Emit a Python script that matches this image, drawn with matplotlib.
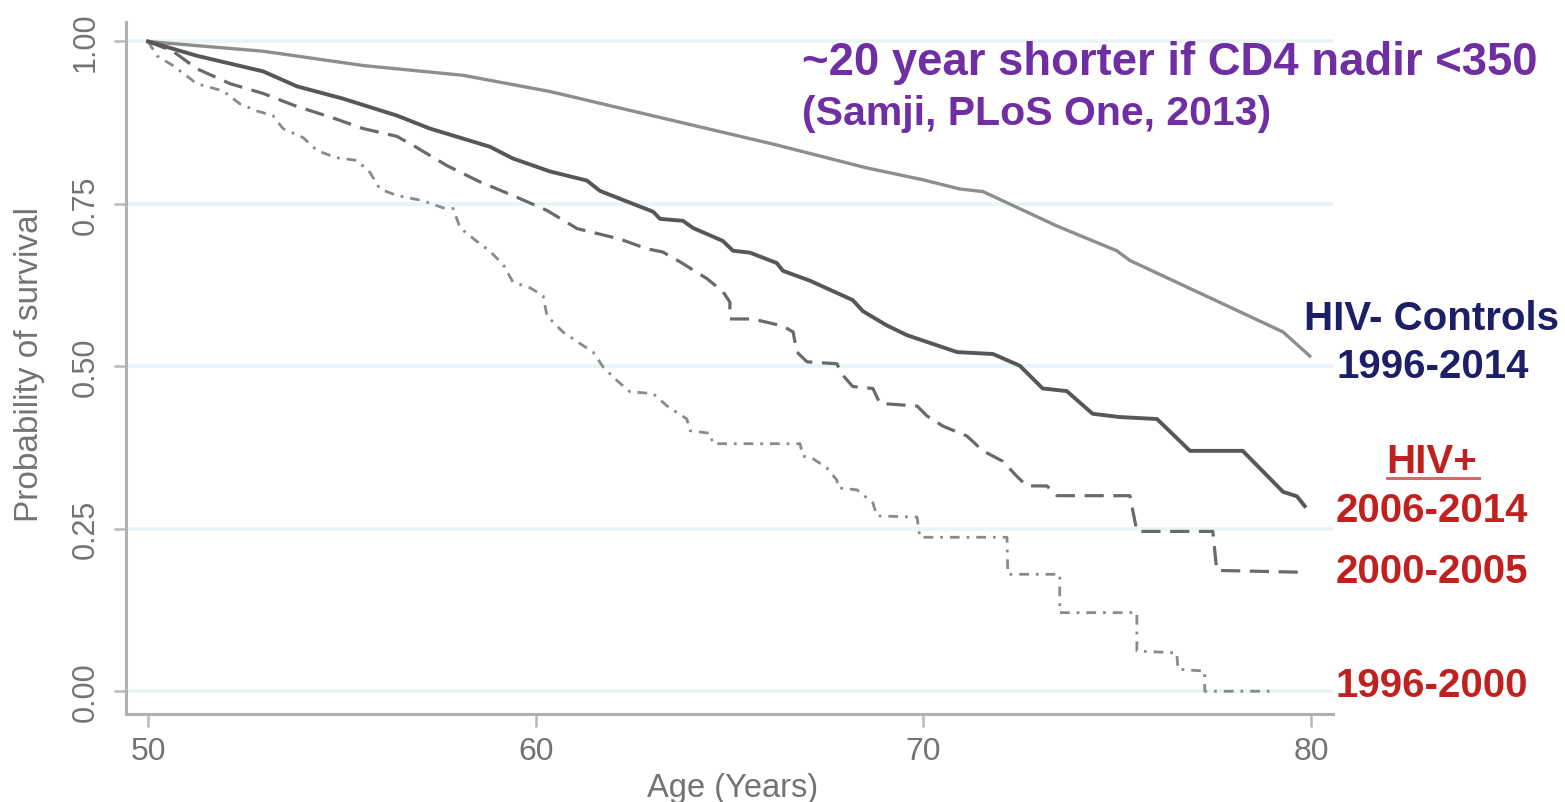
import matplotlib
matplotlib.use("Agg")
import matplotlib.pyplot as plt
from matplotlib.lines import Line2D

plt.rcParams['font.family'] = ['Liberation Sans', 'DejaVu Sans']

# ---------------- data ----------------
ctrl_age = [50.0, 52.97, 55.55, 58.12, 60.37, 62.5, 64.42, 66.2, 68.5, 70.0,
            70.94, 71.54, 73.45, 74.99, 75.33, 77.99, 79.28, 79.97]
ctrl_surv = [1.0, 0.985, 0.963, 0.948, 0.923, 0.893, 0.866, 0.841, 0.806, 0.787,
             0.773, 0.769, 0.716, 0.678, 0.663, 0.589, 0.553, 0.516]

p0614_age = [50.0, 51.26, 52.97, 53.84, 55.03, 56.42, 57.27, 58.82, 59.41, 60.37,
             61.32, 61.66, 63.03, 63.21, 63.80, 64.06, 64.83, 65.09, 65.53, 66.22,
             66.38, 67.07, 68.18, 68.44, 69.06, 69.58, 70.87, 71.80, 72.49, 73.08,
             73.70, 74.37, 75.07, 76.03, 76.88, 78.24, 79.28, 79.64, 79.84]
p0614_surv = [1.0, 0.978, 0.954, 0.931, 0.912, 0.886, 0.866, 0.838, 0.820, 0.800,
              0.786, 0.770, 0.738, 0.727, 0.724, 0.713, 0.693, 0.678, 0.675, 0.659,
              0.647, 0.632, 0.602, 0.585, 0.563, 0.548, 0.522, 0.519, 0.501, 0.466,
              0.462, 0.427, 0.422, 0.419, 0.370, 0.370, 0.307, 0.300, 0.285]

p0005_age = [50.0, 50.64, 51.26, 52.12, 52.97, 53.84, 54.69, 55.55, 56.42, 56.84,
             57.71, 58.56, 59.41, 60.29, 61.07, 62.17, 62.87, 63.28, 63.72, 64.42,
             64.83, 65.01, 65.01, 65.60, 66.38, 66.64, 66.74, 67.00, 67.77, 67.93,
             68.18, 68.70, 68.88, 69.84, 70.09, 70.51, 70.87, 71.12, 71.54, 72.05,
             72.41, 72.67, 73.19, 73.45, 75.33, 75.51, 77.47, 77.57, 79.89]
p0005_surv = [1.0, 0.985, 0.958, 0.935, 0.920, 0.900, 0.884, 0.866, 0.854, 0.840,
              0.809, 0.784, 0.763, 0.740, 0.712, 0.696, 0.681, 0.676, 0.661, 0.635,
              0.615, 0.599, 0.573, 0.573, 0.562, 0.553, 0.522, 0.507, 0.504, 0.486,
              0.469, 0.466, 0.443, 0.439, 0.424, 0.408, 0.399, 0.393, 0.370, 0.354,
              0.331, 0.316, 0.316, 0.301, 0.301, 0.246, 0.246, 0.186, 0.183]

p9600_age = [50.0, 50.23, 50.64, 51.26, 51.93, 52.37, 52.81, 53.22, 53.48, 54.00,
             54.36, 54.87, 55.39, 55.73, 55.98, 56.42, 57.09, 57.61, 57.87, 58.05,
             58.49, 58.82, 59.16, 59.41, 59.85, 60.19, 60.29, 60.70, 61.07, 61.48,
             61.74, 62.10, 62.43, 63.03, 63.39, 63.90, 63.98, 64.50, 64.57, 66.82,
             66.89, 67.15, 67.51, 67.77, 67.80, 68.29, 68.70, 68.80, 69.84, 69.91,
             72.16, 72.18, 73.52, 73.52, 75.51, 75.51, 76.54, 76.57, 77.26, 77.26,
             78.94]
p9600_surv = [1.0, 0.978, 0.963, 0.935, 0.924, 0.904, 0.893, 0.886, 0.866, 0.852,
              0.832, 0.821, 0.817, 0.798, 0.773, 0.763, 0.755, 0.744, 0.743, 0.713,
              0.692, 0.677, 0.657, 0.630, 0.621, 0.609, 0.578, 0.553, 0.538, 0.522,
              0.499, 0.478, 0.461, 0.458, 0.439, 0.419, 0.401, 0.397, 0.381, 0.381,
              0.362, 0.358, 0.344, 0.325, 0.313, 0.310, 0.290, 0.270, 0.268, 0.237,
              0.237, 0.180, 0.180, 0.121, 0.121, 0.062, 0.059, 0.034, 0.031, 0.0,
              0.0]

x_ticks = [50, 60, 70, 80]
y_ticks = [0.0, 0.25, 0.5, 0.75, 1.0]
y_tick_labels = ["0.00", "0.25", "0.50", "0.75", "1.00"]

title_line1 = "~20 year shorter if CD4 nadir <350"
title_line2 = "(Samji, PLoS One, 2013)"
ctrl_label = ["HIV- Controls", "1996-2014"]
pos_header = "HIV+"
pos_labels = ["2006-2014", "2000-2005", "1996-2000"]

# ---------------- figure ----------------
W, H = 1565, 803
fig = plt.figure(figsize=(W / 100, H / 100), dpi=100)
fig.patch.set_facecolor('white')

def fx(px):
    return px / W

def fy(py):
    return 1 - py / H

ax = fig.add_axes([fx(126), fy(715), fx(1333) - fx(126), fy(23) - fy(715)])
ax.set_xlim(49.43, 80.57)
ax.set_ylim(-0.035, 1.03)

for yv in y_ticks:
    ax.axhline(yv, color='#eaf3f5', lw=2.6, zorder=0)

ax.plot(ctrl_age, ctrl_surv, color='#8e8e8e', lw=2.4, solid_joinstyle='round', zorder=3)
ax.plot(p0614_age, p0614_surv, color='#575757', lw=2.8, solid_joinstyle='round', zorder=4)
ax.plot(p0005_age, p0005_surv, color='#6a6a6a', lw=2.3, linestyle=(0, (6, 3)), zorder=3)
ax.plot(p9600_age, p9600_surv, color='#8a8a8a', lw=2.0, linestyle=(0, (3.5, 2.5, 1, 2.5)), zorder=3)

for s in ['top', 'right']:
    ax.spines[s].set_visible(False)
for s in ['left', 'bottom']:
    ax.spines[s].set_color('#b0b0b0')
    ax.spines[s].set_linewidth(2.2)

ax.set_xticks(x_ticks)
ax.set_xticklabels([str(t) for t in x_ticks])
ax.set_yticks(y_ticks)
ax.set_yticklabels(y_tick_labels, rotation=90, va='center')
ax.tick_params(axis='both', colors='#b8b8b8', length=9, width=1.8, labelcolor='#737373',
               labelsize=22)
ax.tick_params(axis='x', pad=7, labelsize=23)
ax.tick_params(axis='y', pad=9)

fig.text(fx(30), fy(365), "Probability of survival", rotation=90, ha='center', va='center',
         fontsize=24, color='#737373')
fig.text(fx(733), fy(797), "Age (Years)", ha='center', va='baseline',
         fontsize=23.5, color='#737373')

purple = '#6f2fa3'
fig.text(fx(802), fy(75), title_line1, ha='left', va='baseline', fontsize=32.8,
         fontweight='bold', color=purple)
fig.text(fx(802), fy(125), title_line2, ha='left', va='baseline', fontsize=29.5,
         fontweight='bold', color=purple)

navy = '#1c1f66'
red = '#c0211f'
fig.text(fx(1432), fy(330), ctrl_label[0], ha='center', va='baseline', fontsize=29,
         fontweight='bold', color=navy)
fig.text(fx(1433), fy(378), ctrl_label[1], ha='center', va='baseline', fontsize=29,
         fontweight='bold', color=navy)
fig.text(fx(1432), fy(473), pos_header, ha='center', va='baseline', fontsize=29,
         fontweight='bold', color=red)
fig.add_artist(Line2D([fx(1387), fx(1479)], [fy(479), fy(479)], color='#d46a6a', lw=2.2))
for lab, base in zip(pos_labels, [522, 583, 697]):
    fig.text(fx(1432), fy(base), lab, ha='center', va='baseline', fontsize=29,
             fontweight='bold', color=red)

fig.savefig("out.png", dpi=100, facecolor='white')
